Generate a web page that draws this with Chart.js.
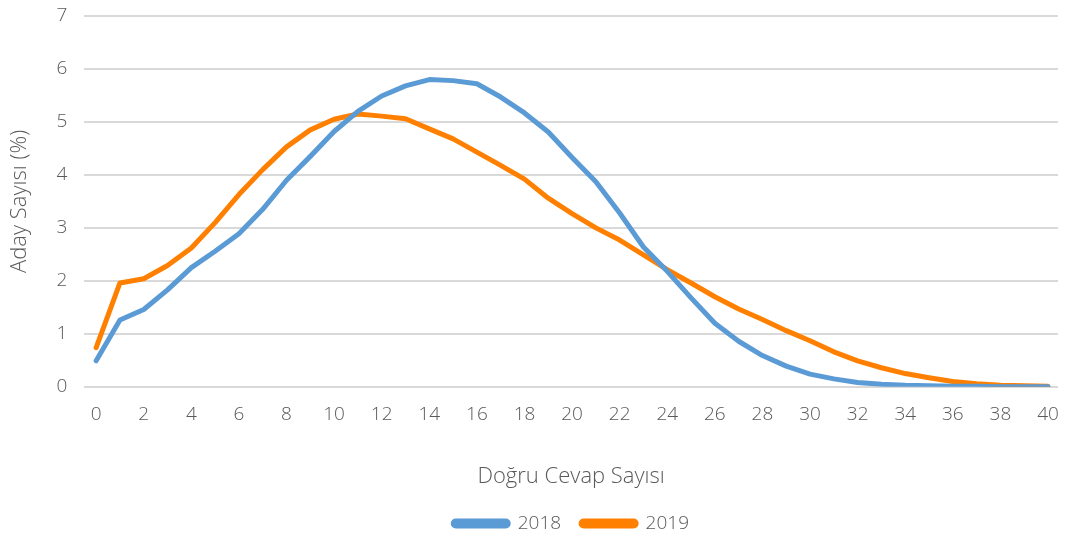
<!DOCTYPE html>
<html>
<head>
<meta charset="utf-8">
<script src="https://cdn.jsdelivr.net/npm/chart.js@4.4.0/dist/chart.umd.min.js"></script>
<style>
  html, body { margin: 0; padding: 0; background: #fff; }
  #wrap { width: 1068px; height: 535px; }
</style>
</head>
<body>
<div id="wrap"><canvas id="linechart"></canvas></div>
<script>
// Data
const correctAnswers = [0,1,2,3,4,5,6,7,8,9,10,11,12,13,14,15,16,17,18,19,20,21,22,23,24,25,26,27,28,29,30,31,32,33,34,35,36,37,38,39,40];
const share2018 = [0.49,1.26,1.46,1.83,2.25,2.56,2.89,3.35,3.9,4.35,4.82,5.2,5.49,5.68,5.8,5.78,5.72,5.47,5.17,4.81,4.33,3.87,3.28,2.64,2.18,1.68,1.2,0.86,0.59,0.39,0.24,0.15,0.08,0.05,0.03,0.02,0.01,0.01,0,0,0];
const share2019 = [0.74,1.96,2.04,2.29,2.62,3.1,3.63,4.1,4.53,4.85,5.05,5.15,5.11,5.06,4.87,4.68,4.43,4.18,3.92,3.56,3.27,3.0,2.77,2.49,2.21,1.96,1.7,1.47,1.27,1.06,0.87,0.66,0.49,0.36,0.25,0.17,0.1,0.06,0.03,0.02,0.01];
const xTicks = [0,2,4,6,8,10,12,14,16,18,20,22,24,26,28,30,32,34,36,38,40];
const seriesNames = ['2018','2019'];

const toPoints = (vals) => vals.map((v, i) => ({x: correctAnswers[i], y: v}));
const textColor = '#595959';
const fontFamily = '"Open Sans", "Noto Sans", sans-serif';
const tickFont = { family: fontFamily, size: 19, weight: 300 };
const titleFont = { family: fontFamily, size: 22, weight: 300 };
const legendFont = { family: fontFamily, size: 19, weight: 300 };

// drop the automatic label overhang so the plot area sits where the original does
const noOverhang = (scale) => {
    scale.paddingTop = 0; scale.paddingBottom = 0;
    scale.paddingLeft = 0; scale.paddingRight = 0;
};

new Chart('linechart', {
    type: 'line',
    data: {
        datasets: [{
            label: seriesNames[0],
            data: toPoints(share2018),
            borderColor: '#5B9BD5',
            backgroundColor: '#5B9BD5',
            borderWidth: 5,
            pointRadius: 0,
            borderCapStyle: 'round',
            borderJoinStyle: 'round'
        }, {
            label: seriesNames[1],
            data: toPoints(share2019),
            borderColor: '#FF8000',
            backgroundColor: '#FF8000',
            borderWidth: 5,
            pointRadius: 0,
            borderCapStyle: 'round',
            borderJoinStyle: 'round'
        }]
    },
    options: {
        responsive: true,
        maintainAspectRatio: false,
        animation: false,
        layout: { padding: { left: 4, right: 10, top: 16, bottom: -8 } },
        plugins: {
            tooltip: { enabled: false },
            legend: {
                position: 'bottom',
                fullSize: false,
                labels: {
                    color: textColor,
                    font: legendFont,
                    boxWidth: 55,
                    boxHeight: 5,
                    useBorderRadius: true,
                    borderRadius: 2.5,
                    padding: 20
                }
            }
        },
        scales: {
            x: {
                type: 'linear',
                min: -0.5,
                max: 40.42,
                afterBuildTicks: (scale) => { scale.ticks = xTicks.map(v => ({value: v})); },
                afterFit: noOverhang,
                grid: { display: false, drawTicks: false },
                border: { display: false },
                ticks: {
                    color: textColor,
                    font: tickFont,
                    padding: 16,
                    maxRotation: 0,
                    autoSkip: false
                },
                title: {
                    display: true,
                    text: 'Doğru Cevap Sayısı',
                    color: textColor,
                    font: titleFont,
                    padding: { top: 22, bottom: 4 }
                }
            },
            y: {
                min: 0,
                max: 7,
                afterFit: noOverhang,
                ticks: {
                    stepSize: 1,
                    color: textColor,
                    font: tickFont,
                    padding: 17
                },
                grid: { color: '#D9D9D9', lineWidth: 2, drawTicks: false },
                border: { display: false },
                title: {
                    display: true,
                    text: 'Aday Sayısı (%)',
                    color: textColor,
                    font: titleFont,
                    padding: { top: 3, bottom: 6 }
                }
            }
        }
    }
});
</script>
</body>
</html>
